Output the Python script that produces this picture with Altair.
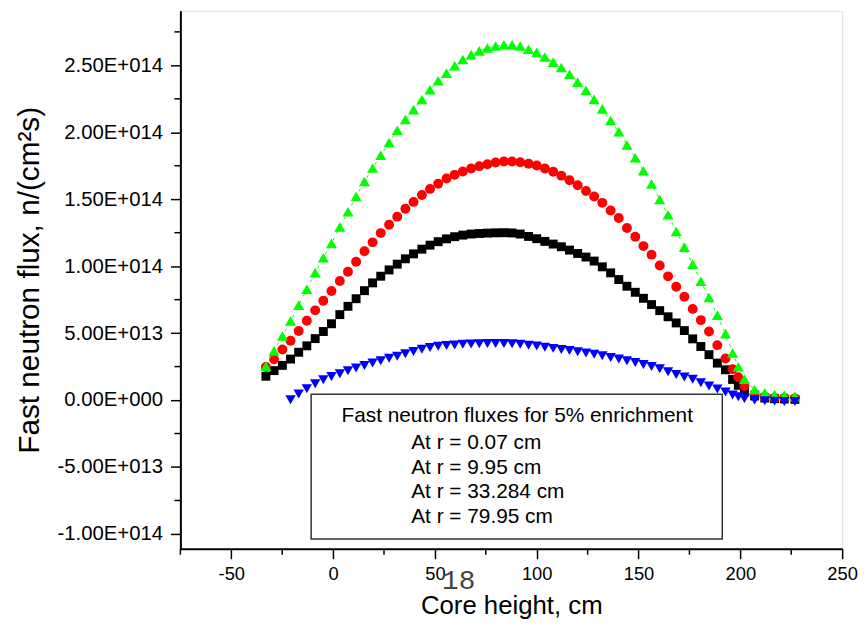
import altair as alt
import pandas as pd

# ---- data (flux values in units of 1e13 n/(cm^2 s)) ----
x_cm = [-33.0, -29.0, -24.9, -20.9, -16.9, -12.9, -8.8, -4.8, -0.8, 3.3,
        7.3, 11.3, 15.4, 19.4, 23.4, 27.5, 31.5, 35.5, 39.5, 43.6,
        47.6, 51.6, 55.7, 59.7, 63.7, 67.8, 71.8, 75.8, 79.8, 83.9,
        87.9, 91.9, 96.0, 100.0, 104.0, 108.1, 112.1, 116.1, 120.1, 124.2,
        128.2, 132.2, 136.3, 140.3, 144.3, 148.4, 152.4, 156.4, 160.4, 164.5,
        168.5, 172.5, 176.6, 180.6, 184.6, 188.7, 192.7, 196.2, 199.0, 202.0,
        207.0, 212.0, 216.8, 221.6, 226.8]

flux_r007 = [2.52, 3.67, 4.79, 5.9, 7.09, 8.28, 9.52, 10.63, 11.7, 12.93,
             14.06, 15.2, 16.32, 17.33, 18.28, 19.24, 20.15, 20.95, 21.69, 22.45,
             23.18, 23.85, 24.42, 24.97, 25.44, 25.8, 26.08, 26.3, 26.45, 26.54,
             26.53, 26.44, 26.2, 25.98, 25.62, 25.24, 24.84, 24.33, 23.75, 23.14,
             22.46, 21.75, 20.88, 20.05, 19.05, 18.1, 17.13, 16.14, 14.98, 13.84,
             12.6, 11.42, 10.15, 8.87, 7.66, 6.33, 4.96, 3.51, 2.49, 1.56,
             0.79, 0.54, 0.42, 0.37, 0.30]

flux_r995 = [2.47, 3.05, 3.78, 4.43, 5.16, 5.92, 6.7, 7.42, 8.15, 8.89,
             9.58, 10.33, 11.12, 11.78, 12.47, 13.09, 13.7, 14.29, 14.8, 15.32,
             15.77, 16.16, 16.55, 16.82, 17.07, 17.29, 17.47, 17.61, 17.74, 17.82,
             17.82, 17.76, 17.65, 17.52, 17.3, 17.05, 16.76, 16.42, 16.04, 15.61,
             15.2, 14.73, 14.16, 13.6, 12.85, 12.2, 11.5, 10.86, 10.05, 9.24,
             8.46, 7.72, 6.81, 5.97, 5.12, 4.1, 3.1, 2.3, 1.7, 1.05,
             0.45, 0.25, 0.18, 0.15, 0.12]

flux_r33284 = [1.78, 2.2, 2.59, 3.06, 3.57, 4.05, 4.59, 5.12, 5.7, 6.38,
               7.0, 7.57, 8.17, 8.75, 9.25, 9.72, 10.15, 10.55, 10.92, 11.27,
               11.57, 11.83, 12.04, 12.2, 12.32, 12.4, 12.44, 12.47, 12.49, 12.5,
               12.48, 12.4, 12.22, 12.05, 11.85, 11.65, 11.45, 11.2, 10.95, 10.68,
               10.38, 9.95, 9.5, 9.0, 8.5, 8.05, 7.6, 7.13, 6.68, 6.22,
               5.76, 5.19, 4.57, 4.0, 3.39, 2.76, 2.26, 1.54, 1.1, 0.6,
               0.3, 0.15, 0.1, 0.08, 0.05]

# the r = 79.95 cm series starts at the 4th height point
flux_r7995 = [0.03, 0.45, 0.85, 1.22, 1.52, 1.76, 1.96, 2.18, 2.4, 2.59,
              2.76, 2.94, 3.12, 3.27, 3.45, 3.62, 3.8, 3.92, 4.02, 4.08,
              4.12, 4.16, 4.19, 4.21, 4.23, 4.23, 4.22, 4.2, 4.16, 4.1,
              4.03, 3.95, 3.86, 3.78, 3.7, 3.61, 3.52, 3.42, 3.3, 3.18,
              3.06, 2.94, 2.8, 2.65, 2.5, 2.34, 2.12, 1.9, 1.72, 1.55,
              1.3, 1.05, 0.82, 0.6, 0.38, 0.25, 0.12, 0.0, -0.05, -0.08,
              -0.1, -0.1]

legend_title = "Fast neutron fluxes for 5% enrichment"
legend_labels = ["At r = 0.07 cm", "At r = 9.95 cm", "At r = 33.284 cm", "At r = 79.95 cm"]

y_major = [-1e14, -5e13, 0, 5e13, 1e14, 1.5e14, 2e14, 2.5e14]
y_minor = [-7.5e13, -2.5e13, 2.5e13, 7.5e13, 1.25e14, 1.75e14, 2.25e14, 2.75e14]
x_major = [-50, 0, 50, 100, 150, 200, 250]
x_minor = [-75, -25, 25, 75, 125, 175, 225]

page_note = "18"

# ---- tables ----
SCALE = 1e13
def series(xs, vals):
    return pd.DataFrame({"x": xs, "y": [v * SCALE for v in vals]})

d_green = series(x_cm, flux_r007)
d_red = series(x_cm, flux_r995)
d_black = series(x_cm, flux_r33284)
d_blue = series(x_cm[3:], flux_r7995)

FONT = "Liberation Sans"
W, H = 668, 543
x_scale = alt.Scale(domain=[-75, 250], nice=False, zero=False)
y_scale = alt.Scale(domain=[-1.111e14, 2.907e14], nice=False, zero=False)

y_label_expr = (
    "datum.value == 0 ? '0.00E+000' : (datum.value < 0 ? '-' : '') + "
    "format(abs(datum.value) / pow(10, floor(log(abs(datum.value)) / LN10 + 1e-9)), '.2f') + 'E+' + "
    "pad(toString(floor(log(abs(datum.value)) / LN10 + 1e-9)), 3, '0', 'left')"
)

x_axis = alt.Axis(values=x_major, labelExpr="toString(datum.value)", title="Core height, cm",
                  grid=False, tickSize=10, tickWidth=1.5, tickColor="black",
                  domainWidth=2, domainColor="black", labelPadding=6, labelFlush=False,
                  labelFont=FONT, labelFontSize=18.5, labelColor="black",
                  titleFont=FONT, titleFontSize=26, titleFontWeight="normal", titleColor="black",
                  titleX=W / 2, titleY=57, titleBaseline="middle", titleAlign="center")
y_axis = alt.Axis(values=y_major, labelExpr=y_label_expr, title="Fast neutron flux, n/(cm²s)",
                  grid=False, tickSize=10, tickWidth=1.5, tickColor="black",
                  domainWidth=2, domainColor="black", labelPadding=8, labelFlush=False,
                  labelFont=FONT, labelFontSize=20.5, labelColor="black",
                  titleFont=FONT, titleFontSize=30, titleFontWeight="normal", titleColor="black",
                  titleX=-152, titleY=H / 2, titleBaseline="middle", titleAlign="center", titleAngle=-90)

X = alt.X("x:Q", scale=x_scale, axis=x_axis)
Y = alt.Y("y:Q", scale=y_scale, axis=y_axis)


def pts(df, shape, color, size):
    return alt.Chart(df).mark_point(shape=shape, filled=True, size=size, color=color,
                                    opacity=1, strokeWidth=0).encode(x=X, y=Y)


black = pts(d_black, "square", "#000000", 81)
red = pts(d_red, "circle", "#ff0000", 100)
green_line = alt.Chart(d_green).mark_line(color="#00ff00", strokeWidth=1, strokeDash=[3, 5]).encode(x=X, y=Y)
green = pts(d_green, "triangle-up", "#00ff00", 125)
blue = pts(d_blue, "triangle-down", "#0000ff", 110)

# minor ticks
yminor = alt.Chart(pd.DataFrame({"y": y_minor})).mark_rule(color="black", strokeWidth=1.5).encode(
    y=Y, x=alt.value(-6), x2=alt.value(0))
xminor = alt.Chart(pd.DataFrame({"x": x_minor})).mark_rule(color="black", strokeWidth=1.5).encode(
    x=X, y=alt.value(H), y2=alt.value(H + 6))

one = pd.DataFrame({"k": [0]})
box = alt.Chart(one).mark_rect(fill="white", stroke="#333333", strokeWidth=1.5).encode(
    x=alt.value(132), x2=alt.value(547), y=alt.value(387), y2=alt.value(533))
title_txt = alt.Chart(one).mark_text(font=FONT, fontSize=21, color="black", align="center",
                                     baseline="middle").encode(
    x=alt.value(340), y=alt.value(409), text=alt.value(legend_title))
label_layers = []
for i, lab in enumerate(legend_labels):
    label_layers.append(
        alt.Chart(one).mark_text(font=FONT, fontSize=21, color="black", align="left",
                                 baseline="middle").encode(
            x=alt.value(233), y=alt.value(436 + 25 * i), text=alt.value(lab)))

note = alt.Chart(one).mark_text(font="Liberation Mono", fontSize=28, color="#444444",
                                align="center", baseline="middle").encode(
    x=alt.value(281), y=alt.value(576), text=alt.value(page_note))

chart = alt.layer(black, red, green_line, green, blue, yminor, xminor, box, title_txt,
                  *label_layers, note).properties(
    width=W, height=H,
    autosize=alt.AutoSizeParams(type="none"),
    padding={"left": 174, "top": 0, "right": 17, "bottom": 70},
).configure_view(stroke=None).configure(background="white")

chart.save("out.html", embed_options={"renderer": "svg", "actions": False})
